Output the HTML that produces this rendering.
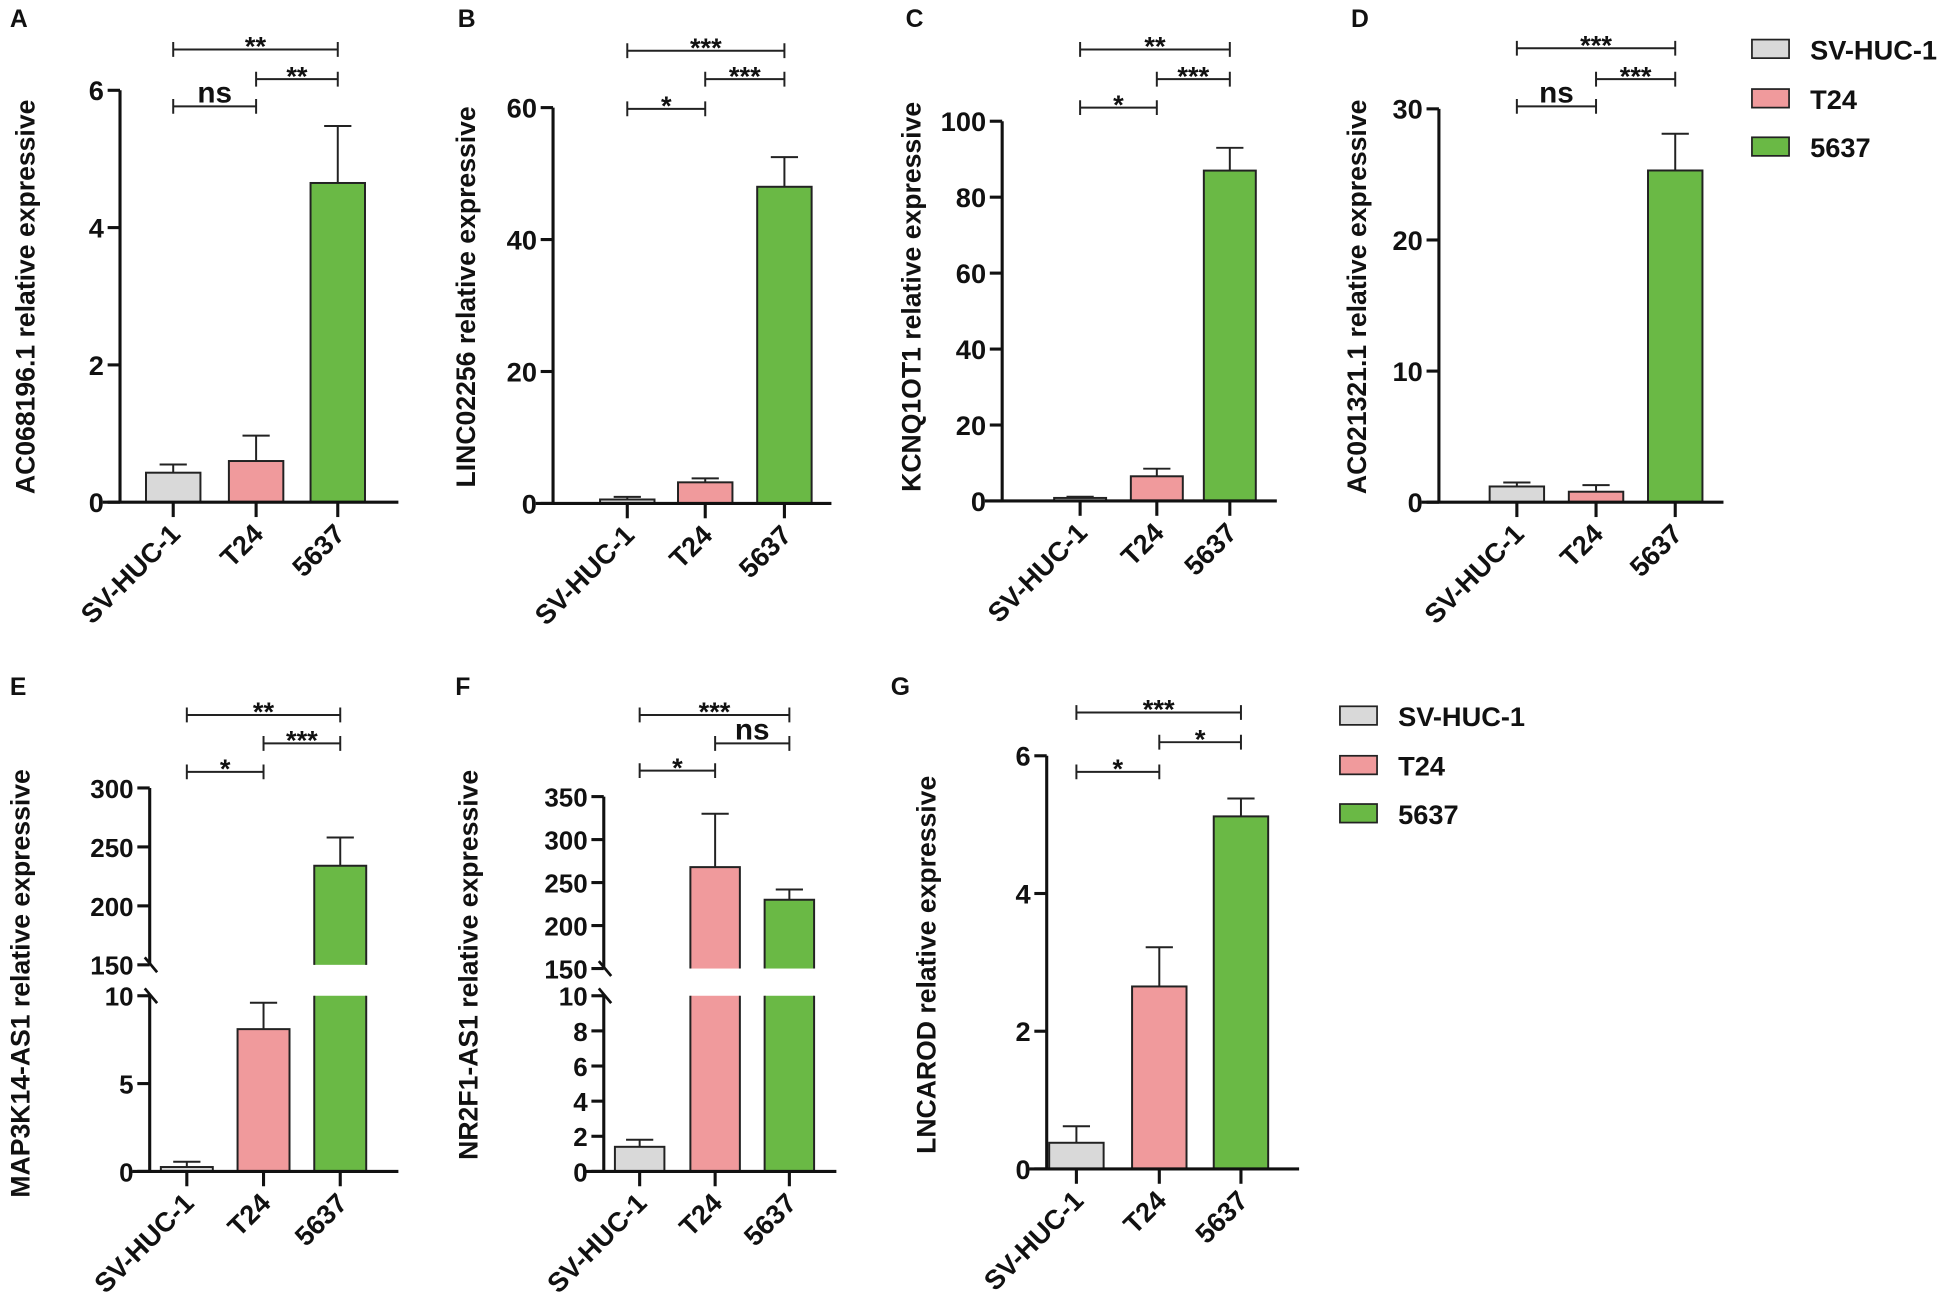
<!DOCTYPE html>
<html><head><meta charset="utf-8">
<style>
html,body{margin:0;padding:0;background:#fff;}
svg{display:block;}
text{font-family:"Liberation Sans",Arial,sans-serif;font-weight:bold;fill:#111;}
</style></head>
<body>
<svg id="fig" width="1940" height="1305" viewBox="0 0 1568 1055" preserveAspectRatio="none" xmlns="http://www.w3.org/2000/svg"></svg>
<script>
// ---- data ----
const categories = ["SV-HUC-1","T24","5637"];
const colors = ["#d9d9d9","#f09a9c","#6ab945"];
const meansA = [0.43,0.6,4.65];  const errA = [0.55,0.97,5.48];
const meansB = [0.6,3.2,48];     const errB = [1.0,3.8,52.5];
const meansC = [0.8,6.5,87];     const errC = [1.1,8.5,93];
const meansD = [1.2,0.8,25.3];   const errD = [1.5,1.3,28.1];
const meansE = [0.25,8.1,234];   const errE = [0.55,9.6,258];
const meansF = [1.4,268,230];    const errF = [1.8,330,242];
const meansG = [0.38,2.65,5.12]; const errG = [0.62,3.22,5.38];
const ticksA=[0,2,4,6], ticksB=[0,20,40,60], ticksC=[0,20,40,60,80,100], ticksD=[0,10,20,30];
const ticksElow=[0,5,10], ticksEup=[150,200,250,300];
const ticksFlow=[0,2,4,6,8,10], ticksFup=[150,200,250,300,350];
const ticksG=[0,2,4,6];
const sigA=["ns","**","**"], sigB=["*","***","***"], sigC=["*","***","**"], sigD=["ns","***","***"];
const sigE=["*","***","**"], sigF=["*","ns","***"], sigG=["*","*","***"];

const NS="http://www.w3.org/2000/svg";
const svg=document.getElementById('fig');
function mk(tag,attrs,parent){const e=document.createElementNS(NS,tag);for(const k in attrs)e.setAttribute(k,attrs[k]);(parent||svg).appendChild(e);return e;}

const panels=[
 {id:"a",letter:"A",lx:8,ly:22,ax:97,xs:[140,207,273],xend:322,bw:44,title:"AC068196.1 relative expressive",tx:20,ty:240,
  segs:[{d0:0,d1:6,p0:406,p1:73,ticks:ticksA}],means:meansA,err:errA,sig:sigA,br:[86,64,40]},
 {id:"b",letter:"B",lx:370,ly:22,ax:447,xs:[507,570,634],xend:672,bw:44,title:"LINC02256 relative expressive",tx:376,ty:240,
  segs:[{d0:0,d1:60,p0:407,p1:87,ticks:ticksB}],means:meansB,err:errB,sig:sigB,br:[88,64,41]},
 {id:"c",letter:"C",lx:732,ly:22,ax:810,xs:[873,935,994],xend:1032,bw:42,title:"KCNQ1OT1 relative expressive",tx:736,ty:240,
  segs:[{d0:0,d1:100,p0:405,p1:98,ticks:ticksC}],means:meansC,err:errC,sig:sigC,br:[87,64,40]},
 {id:"d",letter:"D",lx:1092,ly:22,ax:1163,xs:[1226,1290,1354],xend:1393,bw:44,title:"AC021321.1 relative expressive",tx:1096,ty:240,
  segs:[{d0:0,d1:30,p0:406,p1:88,ticks:ticksD}],means:meansD,err:errD,sig:sigD,br:[86,64,39]},
 {id:"e",letter:"E",lx:8,ly:562,ax:121,xs:[151,213,275],xend:322,bw:42,title:"MAP3K14-AS1 relative expressive",tx:16,ty:795,
  segs:[{d0:0,d1:10,p0:947,p1:805,ticks:ticksElow},{d0:150,d1:300,p0:780,p1:637,ticks:ticksEup}],means:meansE,err:errE,sig:sigE,br:[624,601,578]},
 {id:"f",letter:"F",lx:368,ly:562,ax:488,xs:[517,578,638],xend:676,bw:40,title:"NR2F1-AS1 relative expressive",tx:378,ty:780,
  segs:[{d0:0,d1:10,p0:947,p1:805,ticks:ticksFlow},{d0:150,d1:350,p0:783,p1:644,ticks:ticksFup}],means:meansF,err:errF,sig:sigF,br:[623,601,578]},
 {id:"g",letter:"G",lx:720,ly:562,ax:846,xs:[870,937,1003],xend:1050,bw:44,title:"LNCAROD relative expressive",tx:748,ty:780,
  segs:[{d0:0,d1:6,p0:945,p1:611,ticks:ticksG}],means:meansG,err:errG,sig:sigG,br:[624,600,576]}
];

function yScale(segs,v){
  for(let i=0;i<segs.length;i++){const s=segs[i];
    if(v<=s.d1||i===segs.length-1){ if(i>0&&v<s.d0) v=s.d0; return s.p0+(v-s.d0)*(s.p1-s.p0)/(s.d1-s.d0);} }
}

panels.forEach(p=>{
  const g=mk('g',{});
  
  
  const lt=mk('text',{x:p.lx,y:p.ly,'font-size':20},g); lt.textContent=p.letter;
  
  
  const y0=p.segs[0].p0;
  const fsTick = p.segs.length>1 ? 21 : 22;
  p.means.forEach((m,i)=>{
    const cx=p.xs[i];
    const yTop=yScale(p.segs,m);
    if(p.segs.length>1 && m>p.segs[0].d1){
      const lo=p.segs[0], up=p.segs[1];
      const r1=mk('rect',{x:cx-p.bw/2,y:lo.p1,width:p.bw,height:y0-lo.p1,fill:colors[i]},g);
      
      
      const r2=mk('rect',{x:cx-p.bw/2,y:yTop,width:p.bw,height:up.p0-yTop,fill:colors[i]},g);
      
      
      const o=mk('path',{d:`M${cx-p.bw/2},${lo.p1}V${y0}M${cx+p.bw/2},${lo.p1}V${y0}M${cx-p.bw/2},${up.p0}V${yTop}H${cx+p.bw/2}V${up.p0}`,stroke:'#222','stroke-width':1.6,fill:'none'},g);
      
      
    } else {
      const r=mk('rect',{x:cx-p.bw/2,y:yTop,width:p.bw,height:y0-yTop,fill:colors[i],stroke:'#222','stroke-width':1.6},g);
      
      
    }
    const ye=yScale(p.segs,p.err[i]);
    const eb=mk('path',{d:`M${cx},${yTop}V${ye}M${cx-11},${ye}H${cx+11}`,stroke:'#222','stroke-width':1.6,fill:'none'},g);
    
    
    mk('line',{x1:cx,y1:y0,x2:cx,y2:y0+12,stroke:'#111','stroke-width':2.5},g);
    const cl=mk('text',{x:0,y:0,'font-size':22,'text-anchor':'end',transform:`translate(${cx+7},${y0+27}) rotate(-45)`},g);
    cl.textContent=categories[i];
    
    
  });
  const xa=mk('line',{x1:p.ax-14,y1:y0,x2:p.xend,y2:y0,stroke:'#111','stroke-width':2.5},g);
  
  
  p.segs.forEach((s,si)=>{
    const yl=mk('line',{x1:p.ax,y1:s.p0+(si===0?1:0),x2:p.ax,y2:s.p1,stroke:'#111','stroke-width':2.5},g);
    
    
    s.ticks.forEach(t=>{
      const ty=yScale([s],t);
      mk('line',{x1:p.ax-10,y1:ty,x2:p.ax,y2:ty,stroke:'#111','stroke-width':2.5},g);
      const tl=mk('text',{x:p.ax-13,y:ty+8,'font-size':fsTick,'text-anchor':'end'},g);
      tl.textContent=t;
      
      
    });
  });
  if(p.segs.length>1){
    const b1=p.segs[0].p1, b2=p.segs[1].p0;
    mk('path',{d:`M${p.ax-4},${b2-6}L${p.ax+6},${b2+6}M${p.ax-4},${b1-6}L${p.ax+6},${b1+6}`,stroke:'#111','stroke-width':2.2,fill:'none'},g);
  }
  const yt=mk('text',{x:0,y:0,'font-size':21.5,'text-anchor':'middle',transform:`translate(${p.tx+8},${p.ty}) rotate(-90)`},g);
  yt.textContent=p.title;
  
  
  const pairs=[[0,1],[1,2],[0,2]];
  pairs.forEach((pr,k)=>{
    const yb=p.br[k], x1=p.xs[pr[0]], x2=p.xs[pr[1]];
    const bp=mk('path',{d:`M${x1},${yb-6}V${yb+6}M${x1},${yb}H${x2}M${x2},${yb-6}V${yb+6}`,stroke:'#222','stroke-width':1.6,fill:'none'},g);
    
    
    const isNs=p.sig[k]==="ns";
    const st=mk('text',{x:(x1+x2)/2,y:isNs?yb-3:yb+5,'font-size':isNs?24:22,'font-weight':'normal','text-anchor':'middle'},g);
    st.textContent=p.sig[k];
    
    
  });
});

function legend(x,ys,tx,fs){
  const g=mk('g',{});
  
  
  categories.forEach((c,i)=>{
    const r=mk('rect',{x:x,y:ys[i],width:30,height:15,fill:colors[i],stroke:'#222','stroke-width':1.4},g);
    
    
    const t=mk('text',{x:tx,y:ys[i]+16,'font-size':fs},g);
    t.textContent=c;
    
    
  });
}
legend(1416,[32,72,111],1463,22);
legend(1083,[571,611,650],1130,22);
</script>
</body></html>
